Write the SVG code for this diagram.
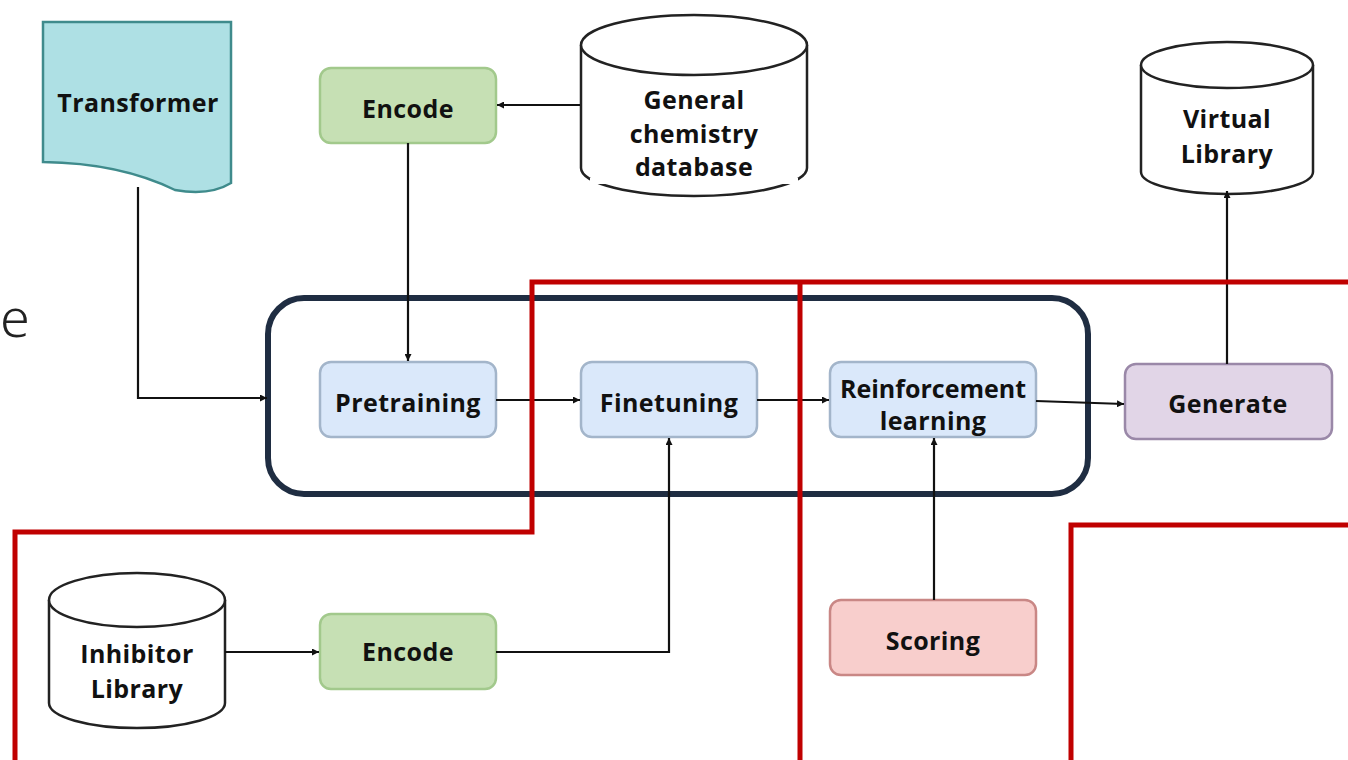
<svg xmlns="http://www.w3.org/2000/svg" width="1348" height="760" viewBox="0 0 1348 760">
<defs>
<marker id="arr" viewBox="0 0 10 10" refX="10" refY="5" markerWidth="7" markerHeight="7" orient="auto" markerUnits="userSpaceOnUse">
<path d="M0,0 L10,5 L0,10 Z" fill="#111"/>
</marker>
<style>
.lbl{font-family:"Open Sans",Lato,"Liberation Sans",sans-serif;font-weight:bold;font-size:25px;letter-spacing:0.4px;fill:#111;text-anchor:middle}
.conn{fill:none;stroke:#111;stroke-width:2.2}
.red{fill:none;stroke:#c00000;stroke-width:5}
.cyl{fill:#fff;stroke:#222;stroke-width:2.5}
.blue{fill:#dae8fa;stroke:#a3b5ca;stroke-width:2.5}
.green{fill:#c6e0b4;stroke:#a2c98c;stroke-width:2.5}
</style>
</defs>
<rect width="1348" height="760" fill="#fff"/>
<text x="0" y="337" style="font-family:'Noto Sans','Liberation Sans',sans-serif;font-weight:300;font-size:54px;fill:#222">e</text>

<g id="container">
<rect x="268" y="298" width="820" height="196" rx="36" fill="none" stroke="#1f2d42" stroke-width="6"/>
</g>

<g id="transformer">
<path d="M43,22 L231,22 L231,183 Q210,196 175,190 Q120,163 43,162 Z" fill="#aee0e4" stroke="#3f8b8c" stroke-width="2.5"/>
<text class="lbl" x="138" y="112">Transformer</text>
</g>

<g id="encode-top">
<rect class="green" x="320" y="68" width="176" height="75" rx="11"/>
<text class="lbl" x="408" y="118">Encode</text>
</g>

<g id="general-db">
<path class="cyl" d="M581,45 V168 A113,28 0 0 0 807,168 V45"/>
<ellipse class="cyl" cx="694" cy="45" rx="113" ry="30"/>
<rect x="590" y="178" width="208" height="6" fill="#fff"/>
<text class="lbl" x="694" y="109">General</text>
<text class="lbl" x="694" y="143">chemistry</text>
<text class="lbl" x="694" y="176">database</text>
</g>

<g id="virtual-lib">
<path class="cyl" d="M1141,65 V172 A86,22 0 0 0 1313,172 V65"/>
<ellipse class="cyl" cx="1227" cy="65" rx="86" ry="23"/>
<text class="lbl" x="1227" y="128">Virtual</text>
<text class="lbl" x="1227" y="163">Library</text>
</g>

<g id="pretraining">
<rect class="blue" x="320" y="362" width="176" height="75" rx="11"/>
<text class="lbl" x="408" y="412">Pretraining</text>
</g>

<g id="finetuning">
<rect class="blue" x="581" y="362" width="176" height="75" rx="11"/>
<text class="lbl" x="669" y="412">Finetuning</text>
</g>

<g id="rl">
<rect class="blue" x="830" y="362" width="206" height="75" rx="11"/>
<text class="lbl" x="933" y="398" style="letter-spacing:0">Reinforcement</text>
<text class="lbl" x="933" y="430">learning</text>
</g>

<g id="generate">
<rect x="1125" y="364" width="207" height="75" rx="11" fill="#e1d5e7" stroke="#9a88a8" stroke-width="2.5"/>
<text class="lbl" x="1228" y="413">Generate</text>
</g>

<g id="inhibitor-lib">
<path class="cyl" d="M49,600 V703 A88,25 0 0 0 225,703 V600"/>
<ellipse class="cyl" cx="137" cy="600" rx="88" ry="27"/>
<text class="lbl" x="137" y="663">Inhibitor</text>
<text class="lbl" x="137" y="698">Library</text>
</g>

<g id="encode-bottom">
<rect class="green" x="320" y="614" width="176" height="75" rx="11"/>
<text class="lbl" x="408" y="661">Encode</text>
</g>

<g id="scoring">
<rect x="830" y="600" width="206" height="75" rx="11" fill="#f8cecc" stroke="#c98785" stroke-width="2.5"/>
<text class="lbl" x="933" y="650">Scoring</text>
</g>

<g id="connectors">
<path class="conn" d="M580,105 H497" marker-end="url(#arr)"/>
<path class="conn" d="M408,143 V361" marker-end="url(#arr)"/>
<path class="conn" d="M138,187 V398 H267" marker-end="url(#arr)"/>
<path class="conn" d="M496,400 H580" marker-end="url(#arr)"/>
<path class="conn" d="M757,400 H829" marker-end="url(#arr)"/>
<path class="conn" d="M1036,401 L1124,404" marker-end="url(#arr)"/>
<path class="conn" d="M1227,364 V191" marker-end="url(#arr)"/>
<path class="conn" d="M225,652 H319" marker-end="url(#arr)"/>
<path class="conn" d="M496,652 H669 V438" marker-end="url(#arr)"/>
<path class="conn" d="M934,600 V438" marker-end="url(#arr)"/>
</g>

<g id="regions">
<path class="red" d="M15,760 V532 H532 V282 H1348"/>
<path class="red" d="M800,282 V760"/>
<path class="red" d="M1348,525 H1071 V760"/>
</g>
</svg>
